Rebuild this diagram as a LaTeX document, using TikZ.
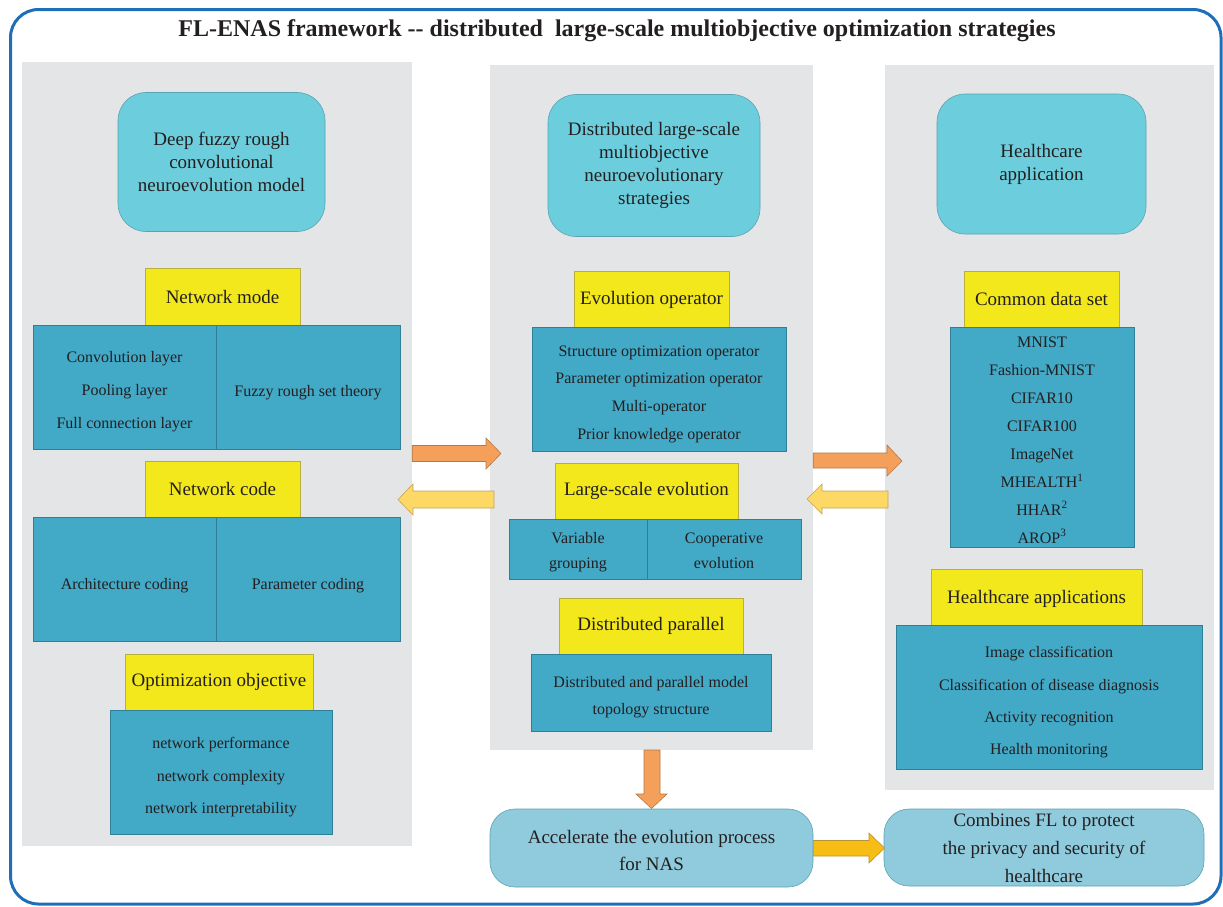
\documentclass[tikz,border=0pt]{standalone}
\usepackage{fontspec}
\setmainfont{Liberation Serif}
\definecolor{frame}{HTML}{1F6FB8}
\definecolor{panelgrey}{HTML}{E4E5E7}
\definecolor{cyanbox}{HTML}{6CCDDC}
\definecolor{cyanborder}{HTML}{5AA3B2}
\definecolor{lightcyan}{HTML}{8FCBDC}
\definecolor{bluebox}{HTML}{42A9C7}
\definecolor{blueborder}{HTML}{2F7F96}
\definecolor{ylw}{HTML}{F2E81C}
\definecolor{ylwborder}{HTML}{B9AF3E}
\definecolor{orng}{HTML}{F5A05A}
\definecolor{orngborder}{HTML}{B27A4C}
\definecolor{lylw}{HTML}{FDD865}
\definecolor{lylwborder}{HTML}{C4A45E}
\definecolor{gold}{HTML}{F7BD14}
\definecolor{goldborder}{HTML}{B89236}
\definecolor{txt}{HTML}{231F20}
\newcommand\mystrut[1]{\rule{0pt}{#1pt}}
\newcommand\mydepth{\rule[-5pt]{0pt}{5pt}}
\tikzset{
  panel/.style={fill=panelgrey, draw=none, inner sep=0pt},
  rbox/.style={rounded corners=28pt, fill=cyanbox, draw=cyanborder, line width=0.6pt, align=center, text=txt, inner sep=0pt, font=\fontsize{19}{23}\selectfont},
  botbox/.style={rounded corners=25pt, fill=lightcyan, draw=cyanborder, line width=0.6pt, align=center, text=txt, inner sep=0pt, font=\fontsize{19}{27.5}\selectfont},
  ybox/.style={fill=ylw, draw=ylwborder, line width=0.6pt, text=txt, inner sep=0pt, font=\fontsize{19}{22}\selectfont},
  bbox/.style={fill=bluebox, draw=blueborder, line width=0.6pt, align=center, text=txt, inner sep=0pt, font=\fontsize{16}{33}\selectfont},
  oarrow/.style={fill=orng, draw=orngborder, line width=0.6pt},
  yarrow/.style={fill=lylw, draw=lylwborder, line width=0.6pt},
  garrow/.style={fill=gold, draw=goldborder, line width=0.6pt}
}
\begin{document}
\begin{tikzpicture}[x=1pt,y=-1pt]
\useasboundingbox (0,0) rectangle (1223,906);
\draw[frame, line width=3pt, rounded corners=28pt] (10.5,9.5) rectangle (1221,904);
\node[font=\fontsize{24}{28}\selectfont\bfseries, text=txt] (title) at (617,30.5) {FL-ENAS framework -{}- distributed\ \ large-scale multiobjective optimization strategies};

% panels
\node[panel, minimum width=390, minimum height=784] (lp) at (217,454) {};
\node[panel, minimum width=323, minimum height=685] (mp) at (651.5,407.5) {};
\node[panel, minimum width=329, minimum height=725] (rp) at (1049.5,427.5) {};

% left column
\node[rbox, minimum width=207, minimum height=139] (l1) at (221.5,162) {Deep fuzzy rough\\convolutional\\neuroevolution model};
\node[ybox, minimum width=155, minimum height=57] (l2) at (222.5,296.5) {Network mode};
\node[bbox, minimum width=183, minimum height=124] (l3a) at (124.5,387) {\mystrut{21}Convolution layer\\Pooling layer\\Full connection layer};
\node[bbox, minimum width=184, minimum height=124] (l3b) at (308,387) {\mystrut{22}Fuzzy rough set theory};
\node[ybox, minimum width=155, minimum height=56] (l4) at (222.5,489) {Network code};
\node[bbox, minimum width=183, minimum height=124] (l5a) at (124.5,579) {\mystrut{24}Architecture coding};
\node[bbox, minimum width=184, minimum height=124] (l5b) at (308,579) {\mystrut{24}Parameter coding};
\node[ybox, minimum width=188, minimum height=56] (l6) at (219,682) {Optimization objective};
\node[bbox, font=\fontsize{16}{32.5}\selectfont, minimum width=222, minimum height=124] (l7) at (221,772) {\mystrut{22}network performance\\network complexity\\network interpretability};

% middle column
\node[rbox, minimum width=212, minimum height=142] (m1) at (654,165.5) {Distributed large-scale\\multiobjective\\neuroevolutionary\\strategies};
\node[ybox, minimum width=155, minimum height=56] (m2) at (651.5,299) {\mystrut{16}Evolution operator};
\node[bbox, font=\fontsize{16}{27.6}\selectfont, minimum width=254, minimum height=124] (m3) at (659,389) {\mystrut{21}Structure optimization operator\\Parameter optimization operator\\Multi-operator\\Prior knowledge operator};
\node[ybox, minimum width=183, minimum height=56] (m4) at (646.5,491) {Large-scale evolution};
\node[bbox, font=\fontsize{16}{25}\selectfont, minimum width=138, minimum height=60] (m5a) at (578,549) {\mystrut{18}Variable\\grouping\mydepth};
\node[bbox, font=\fontsize{16}{25}\selectfont, minimum width=154, minimum height=60] (m5b) at (724,549) {\mystrut{18}Cooperative\\evolution\mydepth};
\node[ybox, minimum width=184, minimum height=56] (m6) at (651,626) {Distributed parallel};
\node[bbox, font=\fontsize{16}{27}\selectfont, minimum width=240, minimum height=77] (m7) at (651,692.5) {\mystrut{20}Distributed and parallel model\\topology structure};

% right column
\node[rbox, minimum width=209, minimum height=140] (r1) at (1041.5,164) {Healthcare\\application};
\node[ybox, minimum width=155, minimum height=56] (r2) at (1041.5,299) {Common data set};
\node[bbox, font=\fontsize{16}{27.9}\selectfont, minimum width=184, minimum height=220] (r3) at (1042,437) {\mystrut{17}MNIST\\Fashion-MNIST\\CIFAR10\\CIFAR100\\ImageNet\\MHEALTH\textsuperscript{1}\\HHAR\textsuperscript{2}\\AROP\textsuperscript{3}};
\node[ybox, minimum width=211, minimum height=56] (r4) at (1036.5,597) {\mystrut{17}Healthcare applications};
\node[bbox, font=\fontsize{16}{32.3}\selectfont, minimum width=306, minimum height=144] (r5) at (1049,697) {\mystrut{22}Image classification\\Classification of disease diagnosis\\Activity recognition\\Health monitoring};

% bottom boxes
\node[botbox, minimum width=323, minimum height=78] (b1) at (651.5,848) {\mystrut{18}Accelerate the evolution process\\for NAS};
\node[botbox, font=\fontsize{19}{28}\selectfont, minimum width=320, minimum height=77] (b2) at (1044,847.5) {Combines FL to protect\\the privacy and security of\\healthcare};

% block arrows
\draw[oarrow] (lp.east |- 0,445.5) -- (486,445.5) -- (486,438) -- (501,453.5) -- (486,469) -- (486,461.5) -- (lp.east |- 0,461.5) -- cycle;
\draw[yarrow] (494,491) -- (413,491) -- (413,484) -- (398,499.5) -- (413,515) -- (413,508) -- (494,508) -- cycle;
\draw[oarrow] (mp.east |- 0,453) -- (887,453) -- (887,445) -- (902,461) -- (887,476) -- (887,468) -- (mp.east |- 0,468) -- cycle;
\draw[yarrow] (888,491) -- (822,491) -- (822,484) -- (807,499) -- (822,514) -- (822,508) -- (888,508) -- cycle;
\draw[oarrow] (644,750) -- (644,794) -- (636,794) -- (651.5,808.5) -- (667,794) -- (660,794) -- (660,750) -- cycle;
\draw[garrow] (b1.east |- 0,840.5) -- (869,840.5) -- (869,833) -- (884.5,848) -- (869,863) -- (869,856) -- (b1.east |- 0,856) -- cycle;
\end{tikzpicture}
\end{document}
